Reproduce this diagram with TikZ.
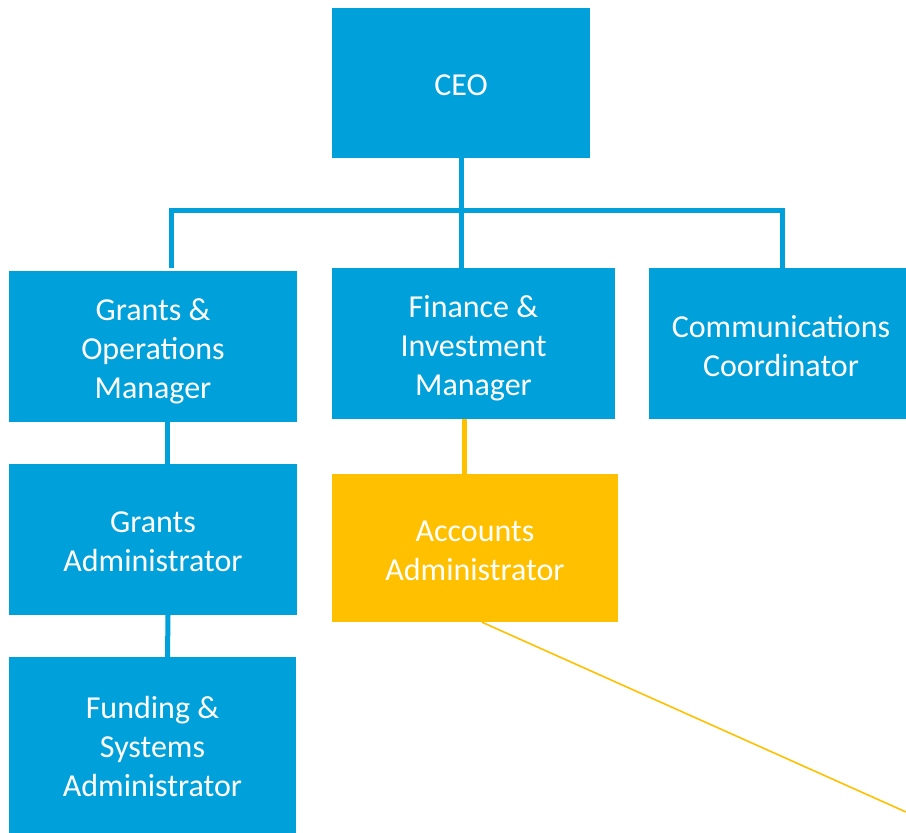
\documentclass[tikz,border=0pt]{standalone}
\usepackage{fontspec}
\setmainfont{Carlito}
\definecolor{orgblue}{HTML}{00A1DB}
\definecolor{orgorange}{HTML}{FFC000}
\begin{document}
\begin{tikzpicture}[x=1pt,y=-1pt,
  box/.style={fill=orgblue,inner sep=0pt},
  hbox/.style={box,fill=orgorange},
  txt/.style={text=white,align=center,inner sep=0pt,
    font=\fontsize{32}{39}\selectfont},
  conn/.style={draw=orgblue,line width=5pt,line join=miter},
  hconn/.style={draw=orgorange,line width=5pt},
  thin/.style={draw=orgorange,line width=1.6pt}]
\useasboundingbox (0,0) rectangle (906,833);
\node[box,minimum width=258pt,minimum height=150pt] (ceo) at (461,83) {};
\node[box,minimum width=288pt,minimum height=151pt] (gom) at (153,346.5) {};
\node[box,minimum width=283pt,minimum height=151pt] (fim) at (473.5,343.5) {};
\node[box,minimum width=264pt,minimum height=151pt] (com) at (781,343.5) {};
\node[box,minimum width=288pt,minimum height=151pt] (ga) at (153,539.5) {};
\node[hbox,minimum width=286pt,minimum height=148pt] (aa) at (475,548) {};
\node[box,minimum width=287pt,minimum height=180pt] (fsa) at (152.5,747) {};
\node[txt] (ceo-t) at ([yshift=-2pt]ceo.center) {CEO};
\node[txt] (gom-t) at ([yshift=-4.5pt]gom.center) {Grants \&\\Operations\\Manager};
\node[txt] (fim-t) at ([yshift=-4.5pt]fim.center) {Finance \&\\Investment\\Manager};
\node[txt] (com-t) at ([yshift=-3pt]com.center) {Communications\\Coordinator};
\node[txt] (ga-t) at ([yshift=-2.5pt]ga.center) {Grants\\Administrator};
\node[txt] (aa-t) at ([yshift=-3pt]aa.center) {Accounts\\Administrator};
\node[txt] (fsa-t) at ([yshift=0.5pt]fsa.center) {Funding \&\\Systems\\Administrator};
\coordinate (busL) at (171,210);
\coordinate (busR) at (782,210);
\coordinate (tail) at (906,812);
\draw[conn] ([yshift=3pt]busL |- gom.north) -- (busL) -- (busR) -- (busR |- com.north);
\draw[conn] (ceo.south) -- (ceo.south |- fim.north);
\draw[conn] ([xshift=14pt]gom.south) -- ([xshift=14pt]ga.north);
\draw[conn] ([xshift=15pt]ga.south) -- ([xshift=15pt]fsa.north);
\draw[hconn] ([xshift=-9.5pt]fim.south) -- ([xshift=-11pt]aa.north);
\draw[thin] ([xshift=7pt]aa.south) -- (tail);
\end{tikzpicture}
\end{document}
